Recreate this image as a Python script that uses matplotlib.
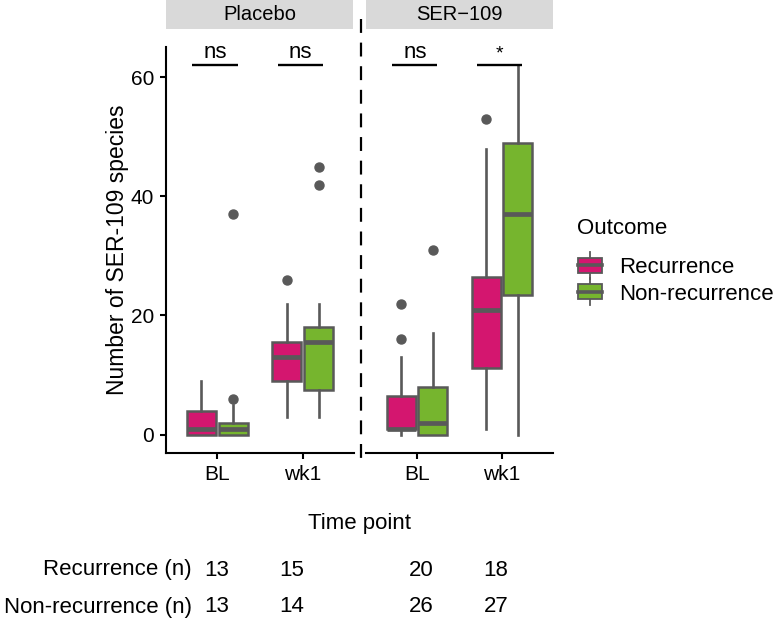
import matplotlib
matplotlib.use("Agg")
import matplotlib.pyplot as plt
from matplotlib.patches import Rectangle
from matplotlib.lines import Line2D
from matplotlib.legend_handler import HandlerBase

plt.rcParams['font.family'] = ['Liberation Sans', 'DejaVu Sans']
plt.rcParams['lines.scale_dashes'] = False

# ---- data ----
panels = ['Placebo', 'SER\u2212109']
timepoints = ['BL', 'wk1']
outcomes = ['Recurrence', 'Non-recurrence']

# box stats per panel -> timepoint -> outcome: (whislo, q1, med, q3, whishi)
placebo_rec = [(0, 0, 1, 4, 9), (3, 9, 13, 15.5, 22)]
placebo_non = [(0, 0, 1, 2, 5), (3, 7.5, 15.5, 18, 22)]
ser_rec = [(0, 1, 1, 6.5, 13), (1, 11.2, 21, 26.5, 48)]
ser_non = [(0, 0, 2, 8, 17), (0, 23.5, 37, 49, 62)]

placebo_rec_out = [[], [26]]
placebo_non_out = [[6, 37], [42, 45]]
ser_rec_out = [[16, 22], [53]]
ser_non_out = [[31], []]

sig_labels = [['ns', 'ns'], ['ns', '*']]
sig_y = 62.1

rec_n = [13, 15, 20, 18]
non_n = [13, 14, 26, 27]

REC = '#D4166F'
NON = '#76B52E'
EDGE = '#595959'
W, H = 776, 620


def fx(px):
    return px / W


def fy(py):
    return 1 - py / H


def make_stats(vals, fliers):
    lo, q1, med, q3, hi = vals
    return dict(whislo=lo, q1=q1, med=med, q3=q3, whishi=hi, fliers=fliers)


fig = plt.figure(figsize=(W / 100, H / 100), dpi=100)

ax_left = fig.add_axes([fx(166), fy(453), 188 / W, (453 - 47) / H])
ax_right = fig.add_axes([fx(366), fy(453), 187 / W, (453 - 47) / H])

panel_data = [
    (ax_left, placebo_rec, placebo_non, placebo_rec_out, placebo_non_out),
    (ax_right, ser_rec, ser_non, ser_rec_out, ser_non_out),
]

off = 0.1875
for i, (ax, rec, non, rec_out, non_out) in enumerate(panel_data):
    for vals, outs, color, sign in [(rec, rec_out, REC, -1), (non, non_out, NON, 1)]:
        stats = [make_stats(v, o) for v, o in zip(vals, outs)]
        pos = [t + 1 + sign * off for t in range(len(timepoints))]
        ax.bxp(stats, positions=pos, widths=0.34, patch_artist=True,
               showcaps=False,
               boxprops=dict(facecolor=color, edgecolor=EDGE, linewidth=1.8),
               whiskerprops=dict(color=EDGE, linewidth=1.9),
               medianprops=dict(color=EDGE, linewidth=3.4),
               flierprops=dict(marker='o', markerfacecolor=EDGE,
                               markeredgecolor=EDGE, markersize=6.5))
    # significance bars
    for t, lab in enumerate(sig_labels[i]):
        ax.plot([t + 1 - 0.29, t + 1 + 0.24], [sig_y, sig_y], color='black',
                lw=1.7, solid_capstyle='butt', clip_on=False)
        if lab == '*':
            ax.text(t + 1 - 0.025, 63.9, lab, ha='center', va='center',
                    fontsize=14, clip_on=False)
        else:
            ax.text(t + 1 - 0.025, 63.3, lab, ha='center', va='baseline',
                    fontsize=16, clip_on=False)

    ax.set_xlim(0.4, 2.6)
    ax.set_ylim(-3.1, 65.1)
    ax.set_xticks([1, 2])
    ax.set_xticklabels(timepoints)
    for s in ['top', 'right']:
        ax.spines[s].set_visible(False)
    ax.spines['bottom'].set_linewidth(1.5)
    ax.spines['left'].set_linewidth(1.5)
    ax.tick_params(axis='both', length=4.5, width=1.5, pad=4, labelsize=15,
                   colors='black')

ax_left.set_yticks([0, 20, 40, 60])
ax_left.set_ylabel('Number of SER-109 species', fontsize=16.5, labelpad=1)
ax_right.spines['left'].set_visible(False)
ax_right.set_yticks([])

# facet strips
for (x0, x1), name in zip([(166, 353), (366, 553)], panels):
    fig.patches.append(Rectangle((fx(x0), fy(29)), (x1 - x0) / W, 29 / H,
                                 transform=fig.transFigure, facecolor='#D9D9D9',
                                 edgecolor='none'))
    fig.text(fx((x0 + x1) / 2), fy(14.5), name, ha='center', va='center',
             fontsize=14.5)

# dashed separator between panels
fig.lines.append(Line2D([fx(361), fx(361)], [fy(19), fy(462)],
                        transform=fig.transFigure, color='black', lw=1.6,
                        dashes=(10, 7)))

fig.text(fx(360), fy(524), 'Time point', ha='center', va='center', fontsize=16)


# legend with box-shaped keys
class BoxKey(HandlerBase):
    def create_artists(self, legend, orig_handle, xdescent, ydescent,
                       width, height, fontsize, trans):
        x0, y0 = -xdescent, -ydescent
        cx = x0 + width / 2
        rect = Rectangle((x0, y0), width, height,
                         facecolor=orig_handle.get_facecolor(),
                         edgecolor=EDGE, lw=1.3, transform=trans)
        up = Line2D([cx, cx], [y0 + height, y0 + height * 1.4], color=EDGE,
                    lw=1.3, transform=trans)
        dn = Line2D([cx, cx], [y0 - height * 0.4, y0], color=EDGE,
                    lw=1.3, transform=trans)
        med = Line2D([x0, x0 + width], [y0 + height / 2] * 2, color=EDGE,
                     lw=2.6, transform=trans)
        return [up, dn, rect, med]


fig.text(fx(577), fy(229), 'Outcome', ha='left', va='center', fontsize=16)
handles = [Rectangle((0, 0), 1, 1, facecolor=c) for c in [REC, NON]]
leg = fig.legend(handles, outcomes, loc='upper left',
                 bbox_to_anchor=(fx(578), fy(257)), frameon=False,
                 fontsize=16, handler_map={Rectangle: BoxKey()},
                 handlelength=1.08, handleheight=0.65, handletextpad=0.75,
                 labelspacing=0.25, borderpad=0, borderaxespad=0)

# counts table under the panels
col_x = [217, 292, 421, 496]
for row_y, label, counts in [(570, 'Recurrence (n)', rec_n),
                             (607, 'Non-recurrence (n)', non_n)]:
    fig.text(fx(192), fy(row_y), label, ha='right', va='center', fontsize=16)
    for x, n in zip(col_x, counts):
        fig.text(fx(x), fy(row_y), str(n), ha='center', va='center', fontsize=16)

fig.savefig('out.png', dpi=100)
